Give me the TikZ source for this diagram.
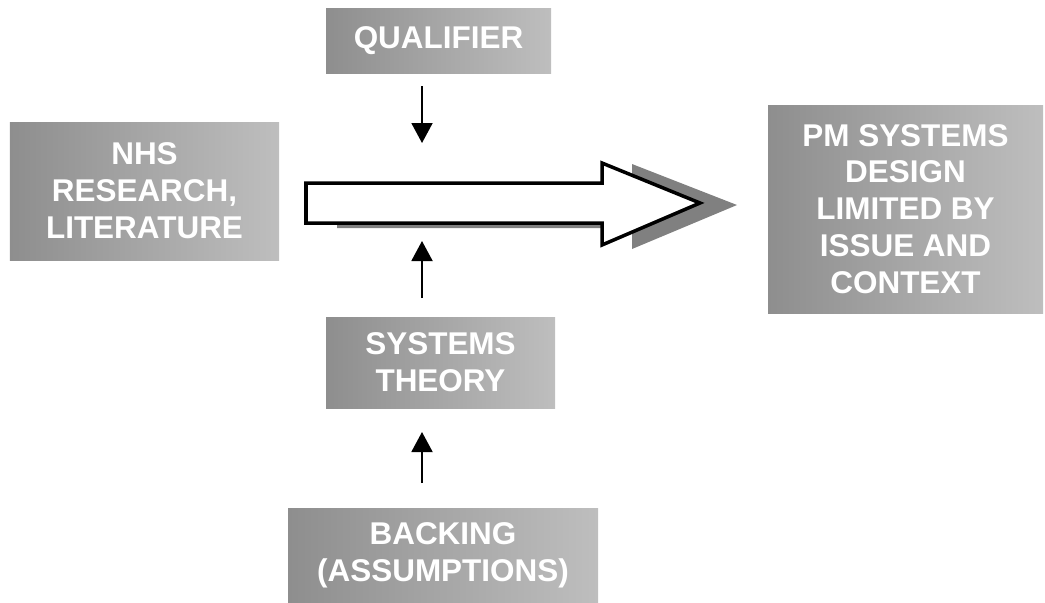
\documentclass[tikz,border=0pt]{standalone}
\usepackage{fontspec}
\setmainfont{Liberation Sans}
\usetikzlibrary{arrows.meta}
\definecolor{box-dark}{HTML}{8E8E8E}
\definecolor{box-light}{HTML}{BEBEBE}
\definecolor{shadow-gray}{HTML}{808080}

\begin{document}
\begin{tikzpicture}[x=0.2mm, y=-0.2mm,
    every node/.style={font=\fontsize{17.9}{21}\selectfont\bfseries, text=white, align=center},
    box/.style={left color=box-dark, right color=box-light, inner sep=0pt},
    link/.style={line width=1.1pt, -{Triangle[width=4.2mm, length=4mm]}}]
    \useasboundingbox (0, 0) rectangle (1045, 602);

    \node[box, minimum width=45mm, minimum height=13mm] (qual) at (438.5, 40.5) {QUALIFIER};
    \node[box, minimum width=53.8mm, minimum height=27.6mm] (nhs) at (144.5, 191) {NHS\\RESEARCH,\\LITERATURE};
    \node[box, minimum width=55mm, minimum height=41.6mm] (pm) at (905.5, 209) {PM SYSTEMS\\DESIGN\\LIMITED BY\\ISSUE AND\\CONTEXT};
    \node[box, minimum width=45.8mm, minimum height=18.2mm] (sys) at (440.5, 362.5) {SYSTEMS\\THEORY};
    \node[box, minimum width=62mm, minimum height=18.8mm] (back) at (443, 555) {BACKING\\(ASSUMPTIONS)};

    % big inference arrow, with its shadow
    \fill[shadow-gray] (337, 187) -- (632, 187) -- (632, 164) -- (737, 205) -- (632, 249) -- (632, 228) -- (337, 228) -- cycle;
    \draw[line width=2pt, fill=white, line join=miter] (306, 183) -- (602, 183) -- (602, 163) -- (700, 203) -- (602, 245) -- (602, 223) -- (306, 223) -- cycle;

    \coordinate (qtip) at (422, 143);
    \coordinate (stip) at (422, 241);
    \coordinate (btip) at (422, 432);
    \coordinate (sbase) at (422, 298);
    \coordinate (bbase) at (422, 483);

    \draw[link] (qual.south -| qtip) ++(0, 13) -- (qtip);
    \draw[link] (sbase) -- (stip);
    \draw[link] (bbase) -- (btip);
\end{tikzpicture}
\end{document}
